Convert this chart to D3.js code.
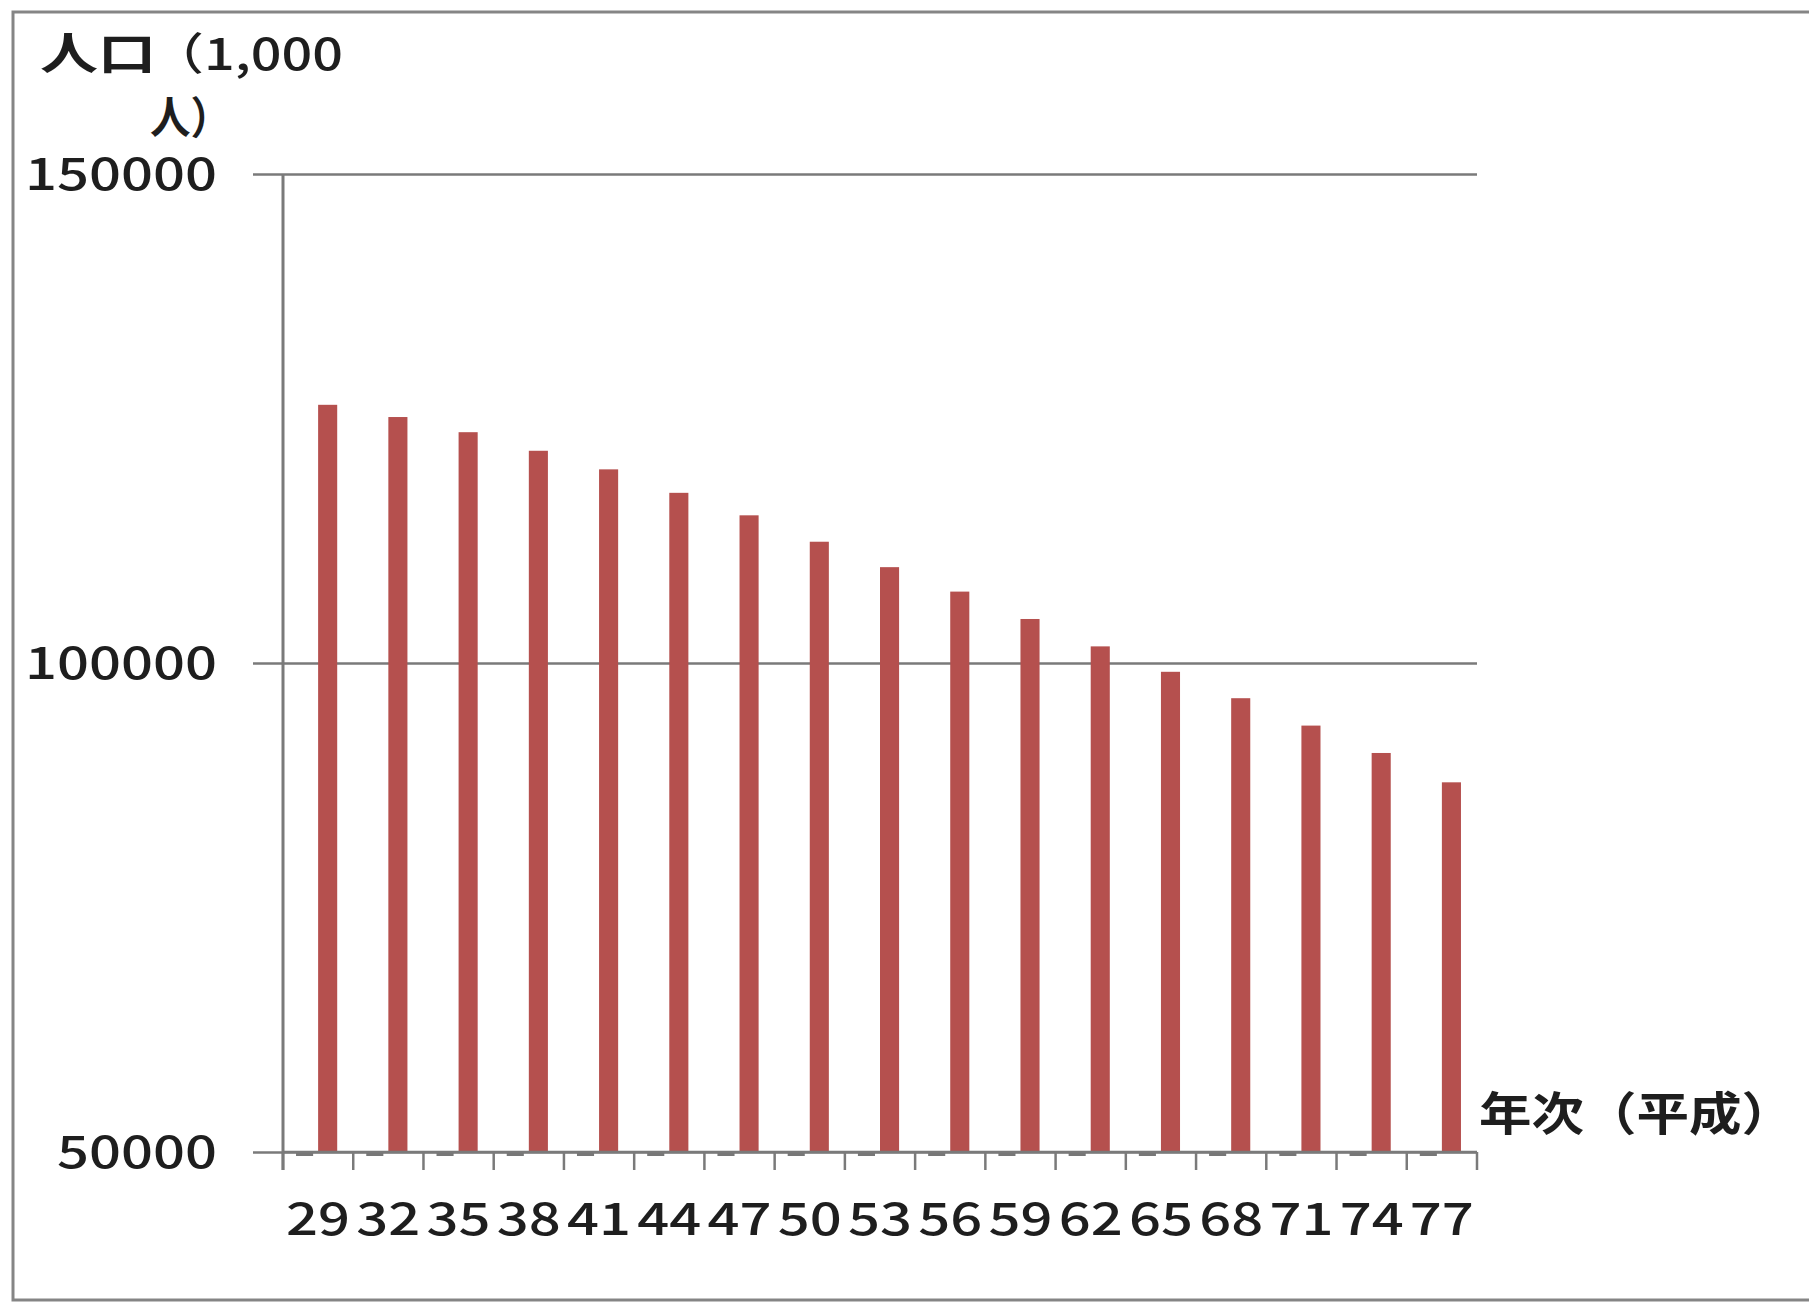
<!DOCTYPE html>
<html>
<head>
<meta charset="utf-8">
<script src="https://cdn.jsdelivr.net/npm/d3@7"></script>
<style>
  html, body { margin: 0; padding: 0; background: #fff; }
  svg { display: block; }
  text { font-family: "Noto Sans CJK JP", "DejaVu Sans", sans-serif; fill: #1e1e1e; }
</style>
</head>
<body>
<svg id="chart" width="1809" height="1302"></svg>
<script>
// ---- data ----
const categories = ["29","32","35","38","41","44","47","50","53","56","59","62","65","68","71","74","77"];
const population = [126400,125150,123600,121700,119800,117400,115100,112400,109800,107300,104500,101700,99100,96400,93600,90800,87800];
const baseSeries = [50000,50000,50000,50000,50000,50000,50000,50000,50000,50000,50000,50000,50000,50000,50000,50000,50000];
const yTicks = [50000, 100000, 150000];
const yTitleParts = ["人口", "（1,000", "人）"];
const xTitle = "年次（平成）";

// ---- layout ----
const svg = d3.select("#chart");
const plot = { left: 283, right: 1477, top: 174, bottom: 1152 };

// outer frame
svg.append("rect")
  .attr("x", 13).attr("y", 12).attr("width", 1830).attr("height", 1288)
  .attr("fill", "none").attr("stroke", "#858585").attr("stroke-width", 3);

const x = d3.scaleBand().domain(categories).range([plot.left, plot.right]).paddingInner(0).paddingOuter(0);
const x1 = d3.scaleBand().domain(["base", "pop"]).range([0, x.bandwidth()]).paddingInner(0).paddingOuter(0.84);
const y = d3.scaleLinear().domain([50000, 150000]).range([plot.bottom, plot.top]);

// gridlines + y ticks
const yAxis = d3.axisLeft(y).tickValues(yTicks).tickSize(-(plot.right - plot.left)).tickFormat("");
const gy = svg.append("g").attr("transform", `translate(${plot.left},0)`).call(yAxis);
gy.select(".domain").remove();
gy.selectAll(".tick line").attr("stroke", "#7a7a7a").attr("stroke-width", 2.5).attr("x1", -30);

// y tick labels
svg.append("g").selectAll("text").data(yTicks).join("text")
  .attr("x", 217).attr("y", d => y(d) + 16)
  .attr("text-anchor", "end")
  .attr("font-size", 44)
  .attr("font-weight", 500)
  .attr("textLength", d => String(d).length * 32)
  .attr("lengthAdjust", "spacingAndGlyphs")
  .text(d => d);

// bars
svg.append("g").selectAll("rect").data(population).join("rect")
  .attr("x", (d, i) => x(categories[i]) + x1("pop"))
  .attr("width", x1.bandwidth())
  .attr("y", d => y(d))
  .attr("height", d => y(50000) - y(d))
  .attr("fill", "#b5504e");

// base series (flat at the axis)
svg.append("g").selectAll("rect").data(baseSeries).join("rect")
  .attr("x", (d, i) => x(categories[i]) + x1("base") - 3)
  .attr("width", x1.bandwidth() - 2)
  .attr("y", d => y(d) + 1)
  .attr("height", 3)
  .attr("fill", "#777");

// y axis line
svg.append("line")
  .attr("x1", plot.left).attr("x2", plot.left)
  .attr("y1", plot.top).attr("y2", plot.bottom + 18)
  .attr("stroke", "#7a7a7a").attr("stroke-width", 3);

// x axis line + ticks at band boundaries
const xg = svg.append("g");
xg.append("line")
  .attr("x1", plot.left).attr("x2", plot.right)
  .attr("y1", plot.bottom).attr("y2", plot.bottom)
  .attr("stroke", "#7a7a7a").attr("stroke-width", 2.5);
const bounds = categories.map(c => x(c)).concat([plot.right]);
xg.selectAll("line.tk").data(bounds).join("line").attr("class", "tk")
  .attr("x1", d => d).attr("x2", d => d)
  .attr("y1", plot.bottom).attr("y2", plot.bottom + 18)
  .attr("stroke", "#7a7a7a").attr("stroke-width", 2.5);

// x labels
svg.append("g").selectAll("text").data(categories).join("text")
  .attr("x", d => x(d) + x.bandwidth() / 2)
  .attr("y", 1235)
  .attr("text-anchor", "middle")
  .attr("font-size", 45)
  .attr("font-weight", 500)
  .attr("textLength", 64)
  .attr("lengthAdjust", "spacingAndGlyphs")
  .text(d => d);

// y title
svg.append("text").attr("x", 40).attr("y", 70).attr("font-size", 44).attr("font-weight", 700)
  .attr("textLength", 116).attr("lengthAdjust", "spacingAndGlyphs")
  .text(yTitleParts[0]);
svg.append("text").attr("x", 150).attr("y", 70).attr("font-size", 44).attr("font-weight", 500)
  .attr("textLength", 193).attr("lengthAdjust", "spacingAndGlyphs")
  .text(yTitleParts[1]);
svg.append("text").attr("x", 150).attr("y", 134).attr("font-size", 44).attr("font-weight", 700)
  .attr("textLength", 81).attr("lengthAdjust", "spacingAndGlyphs")
  .text(yTitleParts[2]);

// x title
svg.append("text").attr("x", 1479).attr("y", 1130).attr("font-size", 46).attr("font-weight", 700)
  .attr("textLength", 315).attr("lengthAdjust", "spacingAndGlyphs")
  .text(xTitle);
</script>
</body>
</html>
